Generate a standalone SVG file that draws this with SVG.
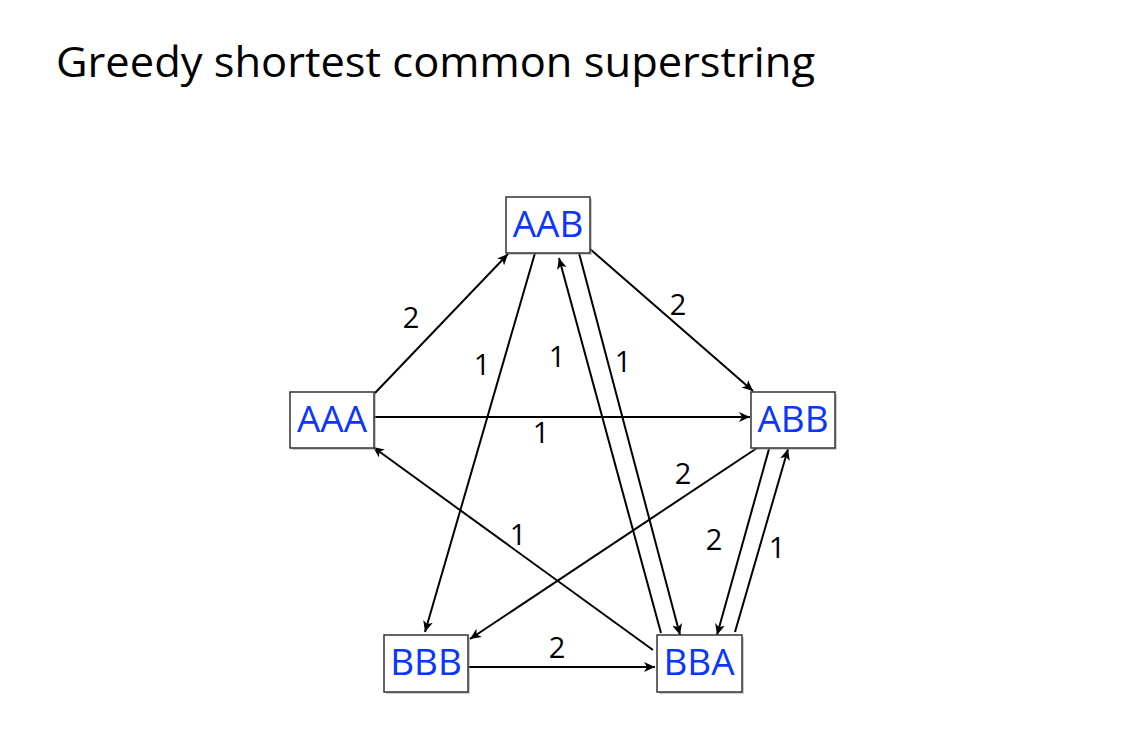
<svg xmlns="http://www.w3.org/2000/svg" width="1136" height="736" viewBox="0 0 1136 736">
<defs>
<style>
.title{font-family:"Open Sans","Liberation Sans",sans-serif;font-size:42px;fill:#000}
.box{fill:#fff;stroke:#333;stroke-width:1.5}
.shadow{fill:#999;opacity:0.5}
.lbl{font-family:"Open Sans","Liberation Sans",sans-serif;font-size:37px;fill:#0a36ff;text-anchor:middle}
.w{font-family:"Open Sans","Liberation Sans",sans-serif;font-size:29px;fill:#000;text-anchor:middle}
.e{stroke:#000;stroke-width:2;fill:none;marker-end:url(#arr)}
</style>
<marker id="arr" markerUnits="userSpaceOnUse" markerWidth="12" markerHeight="10" refX="11" refY="5" orient="auto">
<path d="M0,0 L11,5 L0,10 L3,5 z" fill="#000"/>
</marker>
</defs>
<rect width="1136" height="736" fill="#fff"/>
<text class="title" x="56" y="77" textLength="759" lengthAdjust="spacingAndGlyphs">Greedy shortest common superstring</text>
<g id="connectors">
<line class="e" x1="375" y1="393" x2="508" y2="254"/>
<line class="e" x1="535" y1="253" x2="425" y2="632"/>
<line class="e" x1="661" y1="633" x2="559" y2="258"/>
<line class="e" x1="579" y1="253" x2="680" y2="635"/>
<line class="e" x1="590" y1="249" x2="753" y2="391"/>
<line class="e" x1="374" y1="417" x2="750" y2="417"/>
<line class="e" x1="757" y1="448" x2="470" y2="639"/>
<line class="e" x1="653" y1="650" x2="373" y2="447"/>
<line class="e" x1="769" y1="449" x2="717" y2="635"/>
<line class="e" x1="735" y1="632" x2="788" y2="449"/>
<line class="e" x1="468" y1="667" x2="655" y2="667"/>
</g>
<g id="weights">
<text class="w" x="411" y="328">2</text>
<text class="w" x="482" y="375">1</text>
<text class="w" x="557" y="367">1</text>
<text class="w" x="623" y="372">1</text>
<text class="w" x="678" y="315">2</text>
<text class="w" x="541" y="443">1</text>
<text class="w" x="683" y="484">2</text>
<text class="w" x="518" y="545">1</text>
<text class="w" x="714" y="550">2</text>
<text class="w" x="777" y="558">1</text>
<text class="w" x="557" y="658">2</text>
</g>
<g id="node-AAB">
<rect class="shadow" x="508" y="199" width="84" height="56"/>
<rect class="box" x="506" y="197" width="84" height="56"/>
<text class="lbl" x="548" y="237">AAB</text>
</g>
<g id="node-AAA">
<rect class="shadow" x="292" y="394" width="84" height="56"/>
<rect class="box" x="290" y="392" width="84" height="56"/>
<text class="lbl" x="332" y="432">AAA</text>
</g>
<g id="node-ABB">
<rect class="shadow" x="753" y="394" width="84" height="56"/>
<rect class="box" x="751" y="392" width="84" height="56"/>
<text class="lbl" x="793" y="432">ABB</text>
</g>
<g id="node-BBB">
<rect class="shadow" x="386" y="637" width="84" height="57"/>
<rect class="box" x="384" y="635" width="84" height="57"/>
<text class="lbl" x="426" y="675">BBB</text>
</g>
<g id="node-BBA">
<rect class="shadow" x="659" y="637" width="85" height="57"/>
<rect class="box" x="657" y="635" width="85" height="57"/>
<text class="lbl" x="699" y="675">BBA</text>
</g>
</svg>
